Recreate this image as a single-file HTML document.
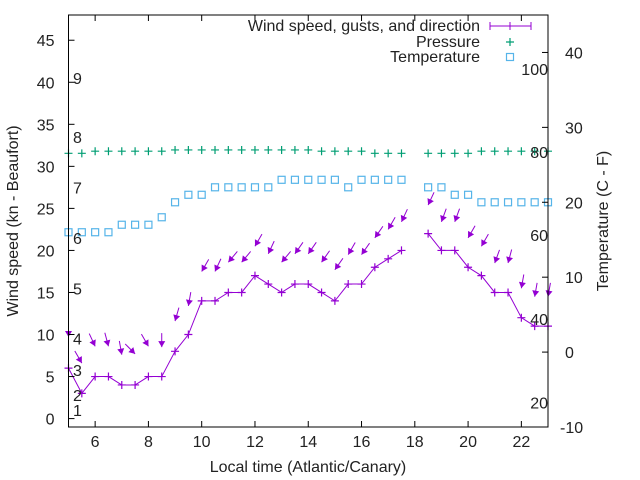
<!DOCTYPE html>
<html><head><meta charset="utf-8"><style>
body{margin:0;background:#fff;}
svg{display:block;font-family:"Liberation Sans",Arial,sans-serif;}
</style></head><body>
<svg id="chart" width="640" height="480" viewBox="0 0 640 480" xmlns="http://www.w3.org/2000/svg">
<rect x="0" y="0" width="640" height="480" fill="#fff"/>
<g id="grid"></g>
<g id="series"></g>
<g id="axes"></g>
</svg>
<script>
const times = [5,5.5,6,6.5,7,7.5,8,8.5,9,9.5,10,10.5,11,11.5,12,12.5,13,13.5,14,14.5,15,15.5,16,16.5,17,17.5,18.5,19,19.5,20,20.5,21,21.5,22,22.5,23];
const windSpeed = [6,3,5,5,4,4,5,5,8,10,14,14,15,15,17,16,15,16,16,15,14,16,16,18,19,20,22,20,20,18,17,15,15,12,11,11];
const gusts = [9.7,6.6,8.6,8.6,7.6,7.7,8.6,8.5,11.6,13.4,17.5,17.5,18.6,18.6,20.5,19.6,18.6,19.6,19.6,18.6,17.7,19.5,19.5,21.5,22.5,23.4,25.4,23.4,23.4,21.5,20.5,18.5,18.5,15.5,14.5,14.5];
const windDir = [0,330,335,345,350,315,330,0,16,10,30,25,40,40,30,25,40,35,35,35,35,30,35,35,30,25,25,20,20,30,30,20,15,10,10,10];
const pressure = [31.55,31.55,31.8,31.8,31.8,31.8,31.8,31.8,31.95,31.95,31.95,31.95,31.95,31.95,31.95,31.95,31.95,31.95,31.95,31.8,31.8,31.8,31.8,31.55,31.55,31.55,31.55,31.55,31.55,31.55,31.8,31.8,31.8,31.8,31.8,31.8];
const tempC = [16,16,16,16,17,17,17,18,20,21,21,22,22,22,22,22,23,23,23,23,23,22,23,23,23,23,22,22,21,21,20,20,20,20,20,20];
const xTicks = [6,8,10,12,14,16,18,20,22];
const yTicks = [0,5,10,15,20,25,30,35,40,45];
const y2Ticks = [-10,0,10,20,30,40];
const beaufortLabels = ["1","2","3","4","5","6","7","8","9"];
const beaufortY = [1,2.8,5.8,9.5,15.5,21.5,27.5,33.5,40.5];
const fahrLabels = ["20","40","60","80","100"];
const fahrC = [-6.7,4.4,15.6,26.7,37.8];

const L=68.5,R=548,T=15,B=427,FS=16;
const X=t=>L+(t-5)*(R-L)/18;
const Y=v=>B-(v+1)*(B-T)/49;
const Y2=c=>B-(c+10)*(B-T)/55;
const NS="http://www.w3.org/2000/svg";
function mk(tag,attrs,parent,text){const e=document.createElementNS(NS,tag);for(const k in attrs)e.setAttribute(k,attrs[k]);if(text!==undefined)e.textContent=text;parent.appendChild(e);return e;}
const ax=document.getElementById('axes'), se=document.getElementById('series');

let fr=mk('rect',{x:L,y:T,width:R-L,height:B-T,fill:'none',stroke:'#000','stroke-width':1},ax);


xTicks.forEach(t=>{
  mk('line',{x1:X(t),x2:X(t),y1:B,y2:B-6,stroke:'#000'},ax);
  mk('line',{x1:X(t),x2:X(t),y1:T,y2:T+6,stroke:'#000'},ax);
  let tx=mk('text',{x:X(t),y:B+20,'font-size':FS,'text-anchor':'middle',fill:'#222'},ax,String(t));
  
  
});
yTicks.forEach(v=>{
  mk('line',{x1:L,x2:L+6,y1:Y(v),y2:Y(v),stroke:'#000'},ax);
  let tx=mk('text',{x:L-14,y:Y(v)+6,'font-size':FS,'text-anchor':'end',fill:'#222'},ax,String(v));
  
  
});
y2Ticks.forEach(c=>{
  mk('line',{x1:R-6,x2:R,y1:Y2(c),y2:Y2(c),stroke:'#000'},ax);
  let tx=mk('text',{x:(c<0?R+12:R+17),y:Y2(c)+6,'font-size':FS,'text-anchor':'start',fill:'#222'},ax,String(c));
  
  
});
beaufortLabels.forEach((s,i)=>{
  let tx=mk('text',{x:73,y:Y(beaufortY[i])+6,'font-size':FS,fill:'#222'},ax,s);
  
  
});
fahrLabels.forEach((s,i)=>{
  let tx=mk('text',{x:548,y:Y2(fahrC[i])+6,'font-size':FS,'text-anchor':'end',fill:'#222'},ax,s);
  
  
});
let xt=mk('text',{x:308,y:472,'font-size':FS,'text-anchor':'middle',fill:'#222'},ax,'Local time (Atlantic/Canary)');


let yt=mk('text',{x:0,y:0,'font-size':FS,'text-anchor':'middle',fill:'#222',transform:'translate(18,221) rotate(-90)'},ax,'Wind speed (kn - Beaufort)');


let y2t=mk('text',{x:0,y:0,'font-size':FS,'text-anchor':'middle',fill:'#222',transform:'translate(608,221) rotate(-90)'},ax,'Temperature (C - F)');



const PUR='#9400d3',GRN='#009e73',BLU='#56b4e9';
pressure.forEach((p,i)=>{
  let g=mk('path',{d:`M${X(times[i])-4},${Y(p)}h8M${X(times[i])},${Y(p)-4}v8`,stroke:GRN,'stroke-width':1.2,fill:'none'},se);
  
  
});
tempC.forEach((c,i)=>{
  let r=mk('rect',{x:X(times[i])-3.5,y:Y2(c)-3.5,width:7,height:7,fill:'none',stroke:BLU,'stroke-width':1.2},se);
  
  
});
let d='';
times.forEach((t,i)=>{ d+=(i===0||t-times[i-1]>0.6?'M':'L')+X(t)+','+Y(windSpeed[i]); });
let wl=mk('path',{d:d,stroke:PUR,fill:'none','stroke-width':1},se);


windSpeed.forEach((v,i)=>{
  let g=mk('path',{d:`M${X(times[i])-4},${Y(v)}h8M${X(times[i])},${Y(v)-4}v8`,stroke:PUR,'stroke-width':1.2,fill:'none'},se);
  
  
});
gusts.forEach((g,i)=>{
  const hx=X(times[i]),hy=Y(g),a=windDir[i]*Math.PI/180;
  const ux=-Math.sin(a),uy=Math.cos(a),Ln=14;
  const tx=hx-ux*Ln,ty=hy-uy*Ln;
  const px=-uy,py=ux,hl=6,hw=3.5;
  const bx=hx-ux*hl,by=hy-uy*hl;
  const grp=mk('g',{},se);
  
  
  mk('line',{x1:tx,y1:ty,x2:hx,y2:hy,stroke:PUR,'stroke-width':1},grp);
  mk('polygon',{points:`${hx},${hy} ${bx+px*hw},${by+py*hw} ${bx-px*hw},${by-py*hw}`,fill:PUR},grp);
});
const lg=mk('g',{},ax);


let l1=mk('text',{x:480,y:31,'font-size':FS,'text-anchor':'end',fill:'#222'},lg,'Wind speed, gusts, and direction');


mk('path',{d:'M490,26H531M490,22v8M531,22v8M510,22v8',stroke:PUR,fill:'none'},lg);
let l2=mk('text',{x:480,y:47,'font-size':FS,'text-anchor':'end',fill:'#222'},lg,'Pressure');


mk('path',{d:'M506,42h8M510,38v8',stroke:GRN,'stroke-width':1.2},lg);
let l3=mk('text',{x:480,y:62,'font-size':FS,'text-anchor':'end',fill:'#222'},lg,'Temperature');


mk('rect',{x:506.5,y:53.5,width:7,height:7,fill:'none',stroke:BLU,'stroke-width':1.2},lg);
</script>
</body></html>
